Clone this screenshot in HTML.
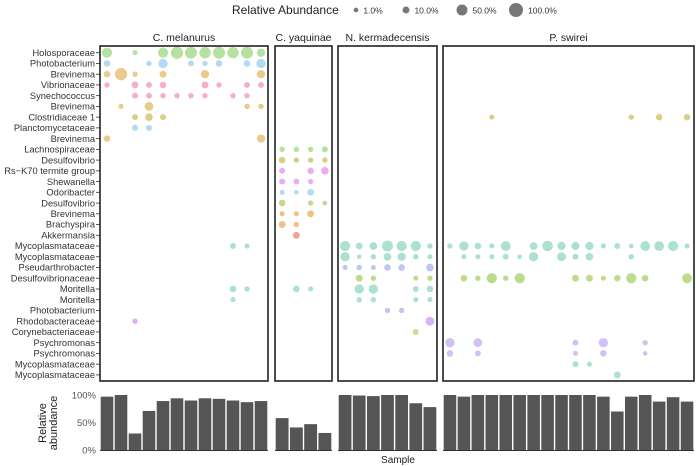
<!DOCTYPE html>
<html><head><meta charset="utf-8">
<style>
html,body{margin:0;padding:0;background:#fff;}
svg{display:block;font-family:"Liberation Sans",sans-serif;}
</style></head>
<body>
<svg id="chart" width="696" height="466" viewBox="0 0 696 466" xmlns="http://www.w3.org/2000/svg"></svg>
<script>
const taxa = ["Holosporaceae","Photobacterium","Brevinema","Vibrionaceae","Synechococcus","Brevinema","Clostridiaceae 1","Planctomycetaceae","Brevinema","Lachnospiraceae","Desulfovibrio","Rs\u2212K70 termite group","Shewanella","Odoribacter","Desulfovibrio","Brevinema","Brachyspira","Akkermansia","Mycoplasmataceae","Mycoplasmataceae","Pseudarthrobacter","Desulfovibrionaceae","Moritella","Moritella","Photobacterium","Rhodobacteraceae","Corynebacteriaceae","Psychromonas","Psychromonas","Mycoplasmataceae","Mycoplasmataceae"];
const taxaColors = ["#8fd16f","#8cc4f0","#e0ae50","#ee85a8","#ee85a8","#dcae50","#c8b44a","#8cc4f0","#e0ae50","#8fd06f","#b8b840","#e080e8","#e080e8","#8cc8f0","#a8c050","#e8a040","#e8a040","#ee7060","#80d0b8","#80d0b8","#9aa8f0","#98c850","#80d0b8","#80d0b8","#9aa8f0","#c888f0","#c0c050","#b8a0f0","#b8a0f0","#80d0b8","#80d0b8"];
const hosts = ["C. melanurus","C. yaquinae","N. kermadecensis","P. swirei"];
const sampleCounts = [12,4,7,18];
const cMelanurus = [
[40,0,2,0,40,70,65,55,65,55,65,20],
[8,0,0,3,30,0,5,3,8,0,8,30],
[8,70,3,0,10,0,0,20,0,0,0,20],
[3,0,10,5,8,0,0,10,3,0,5,5],
[0,0,5,5,3,3,3,3,0,3,3,0],
[0,2,0,25,0,0,0,0,0,0,3,3],
[0,0,5,15,5],
[0,0,6,5],
[8,0,0,0,0,0,0,0,0,0,0,20],
[],[],[],[],[],[],[],[],[],
[0,0,0,0,0,0,0,0,0,5,2],
[],[],[],
[0,0,0,0,0,0,0,0,0,8,3],
[0,0,0,0,0,0,0,0,0,2],
[],
[0,0,3],
[],[],[],[],[]
];
const cYaquinae = [
[],[],[],[],[],[],[],[],[],
[3,3,3,5],
[8,3,3,3],
[5,0,8,15],
[5,5,3,0],
[2,1,10,0],
[8,0,3,1],
[2,2,10,0],
[10,3],
[0,10],
[],[],[],[],
[0,8,2],
[],[],[],[],[],[],[],[]
];
const nKermadecensis = [
[],[],[],[],[],[],[],[],[],[],[],[],[],[],[],[],[],[],
[40,10,15,50,40,40,3],
[30,1,3,15,20,3,2],
[2,3,2,8,8,0,15],
[0,10,3,0,0,2,3],
[0,30,30,0,0,5,8],
[0,3,3,0,0,2,2],
[0,0,0,3,3,0,0],
[0,0,0,0,0,0,25],
[0,0,0,0,0,5,0],
[],[],[],[]
];
const pSwirei = [
[],[],[],[],[],[],
[0,0,0,2,0,0,0,0,0,0,0,0,0,3,0,8,0,8],
[],[],[],[],[],[],[],[],[],[],[],
[3,30,8,2,35,0,15,45,20,20,20,2,5,1,35,35,40,2],
[0,2,2,2,5,1,30,0,25,5,15,0,0,3],
[],
[0,8,3,40,3,40,0,0,0,10,10,2,8,40,8,0,0,35],
[],[],[],[],[],
[30,0,25,0,0,0,0,0,0,5,0,30,0,0,3],
[8,0,5,0,0,0,0,0,0,2,0,8,0,0,1],
[0,0,0,0,0,0,0,0,0,5,2],
[0,0,0,0,0,0,0,0,0,0,0,0,10]
];
const hostMatrices = [cMelanurus,cYaquinae,nKermadecensis,pSwirei];
const barCMel = [97,100,30,71,89,94,90,94,93,90,87,89];
const barCYaq = [58,41,47,31];
const barNKer = [100,99,98,100,100,85,78];
const barPSw = [100,97,100,100,100,100,100,100,100,100,100,97,70,97,100,88,96,88];
const barSeries = [barCMel,barCYaq,barNKer,barPSw];
const barTicks = [0,50,100];
const legendValues = [1,10,50,100];

const NS = "http://www.w3.org/2000/svg";
const svg = document.getElementById("chart");
function mk(tag, attrs, parent, text){
  const e = document.createElementNS(NS, tag);
  for (const k in attrs) e.setAttribute(k, attrs[k]);
  if (text !== undefined) e.textContent = text;
  (parent || svg).appendChild(e);
  return e;
}
const panelX = [[100,268],[275,332],[338,437],[443,694]];
const panelTop = 46, panelBottom = 381;
const row0 = 52.7, rowStep = 10.74;
const yRow = i => row0 + i*rowStep;
const rSize = v => 1.8 + 5.2*Math.sqrt(v/100);
const barY0 = 450, barY100 = 395;
const yBar = v => barY0 - (barY0-barY100)*v/100;

const lg = mk("g", {});


const lt = mk("text", {x:232, y:14, "font-size":12, fill:"#222"}, lg, "Relative Abundance");


const legCx = [356,406,462,516];
legendValues.forEach((v,i)=>{
  const c = mk("circle", {cx:legCx[i], cy:10, r:rSize(v), fill:"#777"}, lg);
  
  
  const t = mk("text", {x:legCx[i]+rSize(v)+5, y:13.5, "font-size":8.5, fill:"#333"}, lg, v.toFixed(1)+"%");
  
  
});

taxa.forEach((name,i)=>{
  const t = mk("text", {x:95, y:yRow(i)+3.2, "font-size":9.3, fill:"#333", "text-anchor":"end"}, svg, name);
  
  
  const tk = mk("line", {x1:96, x2:100, y1:yRow(i), y2:yRow(i), stroke:"#333", "stroke-width":0.8});
  
  
});

hosts.forEach((h,p)=>{
  const x0 = panelX[p][0], x1 = panelX[p][1];
  const n = sampleCounts[p];
  const w = (x1-x0)/n;
  const xS = j => x0 + (j+0.5)*w;
  const st = mk("text", {x:(x0+x1)/2, y:41, "font-size":10.5, fill:"#222", "text-anchor":"middle"}, svg, h);
  
  
  const g = mk("g", {});
  
  
  hostMatrices[p].forEach((row,i)=>{
    row.forEach((v,j)=>{
      if (!v) return;
      const c = mk("circle", {cx:xS(j), cy:yRow(i), r:rSize(v), fill:taxaColors[i], "fill-opacity":0.65}, g);
      
      
    });
  });
  const fr = mk("rect", {x:x0, y:panelTop, width:x1-x0, height:panelBottom-panelTop, fill:"none", stroke:"#222", "stroke-width":1.6});
  
  
  const bg = mk("g", {});
  
  
  barSeries[p].forEach((v,j)=>{
    const b = mk("rect", {x:x0+j*w+0.7, y:yBar(v), width:w-1.4, height:barY0-yBar(v), fill:"#555"}, bg);
    
    
  });
  const bl = mk("line", {x1:x0, x2:x1, y1:barY0+0.5, y2:barY0+0.5, stroke:"#333", "stroke-width":1}, bg);
  
  
});

barTicks.forEach(v=>{
  const t = mk("text", {x:96, y:yBar(v)+3.5, "font-size":9.5, fill:"#555", "text-anchor":"end"}, svg, v+"%");
  
  
});
const ya = mk("text", {transform:"translate(46,423) rotate(-90)", "font-size":11, fill:"#222", "text-anchor":"middle"}, svg, "Relative");


const yb = mk("text", {transform:"translate(57,423) rotate(-90)", "font-size":11, fill:"#222", "text-anchor":"middle"}, svg, "abundance");


const xt = mk("text", {x:398, y:463, "font-size":10, fill:"#222", "text-anchor":"middle"}, svg, "Sample");


</script>
</body></html>
